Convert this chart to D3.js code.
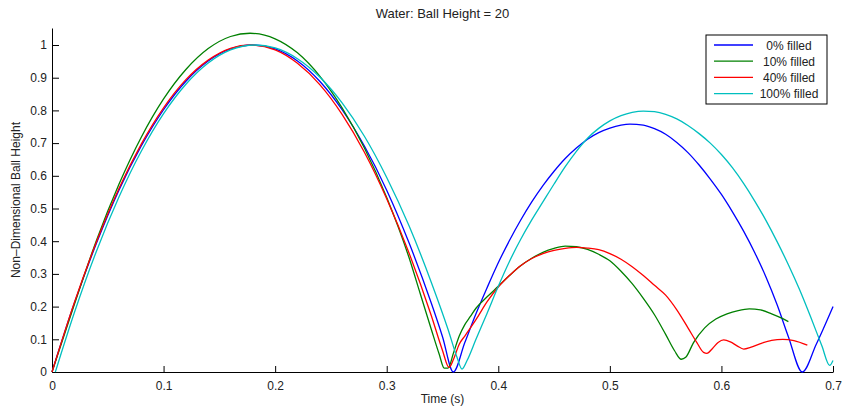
<!DOCTYPE html>
<html>
<head>
<meta charset="utf-8">
<script src="https://cdn.jsdelivr.net/npm/d3@7"></script>
<style>
  body { margin: 0; background: #fff; }
  svg { display: block; font-family: "Liberation Sans", Arial, sans-serif; }
  .axis path, .axis line { stroke: #000; }
  .axis text { fill: #222; font-size: 12px; }
  .series { fill: none; stroke-width: 1.3; stroke-linejoin: round; }
</style>
</head>
<body>
<div id="container"></div>
<script>
// values: [time (s), non-dimensional height]
const filled0 = [
  [0, 0], [0.02, 0.21], [0.04, 0.395], [0.06, 0.556], [0.08, 0.691], [0.10, 0.802],
  [0.12, 0.889], [0.14, 0.951], [0.16, 0.988], [0.18, 1.0], [0.20, 0.988], [0.22, 0.951],
  [0.24, 0.889], [0.26, 0.802], [0.28, 0.691], [0.30, 0.556], [0.32, 0.395], [0.34, 0.21],
  [0.35, 0.108], [0.3597, 0.0],
  [0.37, 0.09], [0.38, 0.178], [0.39, 0.258], [0.40, 0.334], [0.41, 0.402], [0.42, 0.464],
  [0.43, 0.52], [0.44, 0.57], [0.45, 0.614], [0.46, 0.653], [0.47, 0.685], [0.48, 0.712],
  [0.49, 0.732], [0.50, 0.746], [0.51, 0.755], [0.518, 0.758], [0.53, 0.755], [0.54, 0.744],
  [0.55, 0.727], [0.56, 0.702], [0.57, 0.671], [0.58, 0.633], [0.59, 0.59], [0.60, 0.543],
  [0.61, 0.489], [0.62, 0.43], [0.63, 0.364], [0.64, 0.29], [0.65, 0.205], [0.66, 0.108],
  [0.6725, 0.0], [0.685, 0.085], [0.70, 0.2]
];
const filled10 = [
  [0, 0], [0.02, 0.206], [0.04, 0.404], [0.06, 0.574], [0.08, 0.718], [0.10, 0.835],
  [0.12, 0.925], [0.14, 0.989], [0.16, 1.026], [0.1775, 1.036], [0.20, 1.019], [0.22, 0.976],
  [0.24, 0.905], [0.26, 0.808], [0.28, 0.685], [0.30, 0.534], [0.32, 0.35], [0.33, 0.24],
  [0.34, 0.13], [0.347, 0.055], [0.3515, 0.012], [0.355, 0.012],
  [0.360, 0.06], [0.365, 0.11], [0.37, 0.145], [0.375, 0.17], [0.38, 0.195], [0.39, 0.23],
  [0.40, 0.262], [0.41, 0.295], [0.42, 0.325], [0.43, 0.348], [0.44, 0.366], [0.45, 0.378],
  [0.46, 0.385], [0.47, 0.383], [0.48, 0.375], [0.49, 0.36], [0.50, 0.34], [0.51, 0.308],
  [0.52, 0.27], [0.53, 0.225], [0.54, 0.175], [0.55, 0.115], [0.558, 0.065], [0.564, 0.039],
  [0.568, 0.045], [0.575, 0.09], [0.585, 0.135], [0.595, 0.162], [0.605, 0.178], [0.615, 0.188],
  [0.625, 0.193], [0.635, 0.19], [0.645, 0.178], [0.655, 0.163], [0.66, 0.154]
];
const filled40 = [
  [0, 0], [0.02, 0.212], [0.04, 0.399], [0.06, 0.561], [0.08, 0.697], [0.10, 0.808],
  [0.12, 0.894], [0.14, 0.954], [0.16, 0.99], [0.178, 1.0], [0.20, 0.985], [0.22, 0.944],
  [0.24, 0.879], [0.26, 0.788], [0.28, 0.672], [0.30, 0.53], [0.32, 0.364], [0.34, 0.172],
  [0.35, 0.066], [0.3558, 0.014],
  [0.36, 0.04], [0.365, 0.085], [0.37, 0.11], [0.38, 0.16], [0.39, 0.215], [0.40, 0.26],
  [0.41, 0.295], [0.42, 0.325], [0.43, 0.347], [0.44, 0.362], [0.45, 0.372], [0.46, 0.378],
  [0.47, 0.381], [0.48, 0.379], [0.49, 0.374], [0.50, 0.362], [0.51, 0.345], [0.52, 0.322],
  [0.53, 0.295], [0.54, 0.265], [0.55, 0.235], [0.56, 0.19], [0.57, 0.135], [0.578, 0.09],
  [0.584, 0.06], [0.587, 0.057], [0.592, 0.072], [0.597, 0.09], [0.602, 0.098], [0.608, 0.092],
  [0.614, 0.08], [0.62, 0.07], [0.626, 0.075], [0.635, 0.087], [0.645, 0.097], [0.655, 0.1],
  [0.665, 0.096], [0.677, 0.082]
];
const filled100 = [
  [0.003, 0], [0.02, 0.181], [0.04, 0.371], [0.06, 0.535], [0.08, 0.675], [0.10, 0.79],
  [0.12, 0.88], [0.14, 0.945], [0.16, 0.985], [0.182, 1.0], [0.20, 0.991], [0.22, 0.958],
  [0.24, 0.902], [0.26, 0.823], [0.28, 0.721], [0.30, 0.595], [0.32, 0.447], [0.34, 0.274],
  [0.355, 0.13], [0.363, 0.045], [0.3675, 0.009],
  [0.372, 0.035], [0.38, 0.1], [0.39, 0.18], [0.40, 0.262], [0.41, 0.338], [0.42, 0.405],
  [0.43, 0.465], [0.44, 0.52], [0.45, 0.575], [0.46, 0.628], [0.47, 0.675], [0.48, 0.715],
  [0.49, 0.745], [0.50, 0.768], [0.51, 0.784], [0.52, 0.794], [0.53, 0.798], [0.54, 0.796],
  [0.55, 0.788], [0.56, 0.774], [0.57, 0.754], [0.58, 0.729], [0.59, 0.7], [0.60, 0.665],
  [0.61, 0.624], [0.62, 0.576], [0.63, 0.522], [0.64, 0.463], [0.65, 0.398], [0.66, 0.328],
  [0.67, 0.252], [0.68, 0.168], [0.69, 0.08], [0.697, 0.02], [0.70, 0.035]
];

const seriesNames = ["0% filled", "10% filled", "40% filled", "100% filled"];
const seriesColors = ["#0000ff", "#008000", "#ff0000", "#00bfbf"];
const xTicks = [0, 0.1, 0.2, 0.3, 0.4, 0.5, 0.6, 0.7];
const yTicks = [0, 0.1, 0.2, 0.3, 0.4, 0.5, 0.6, 0.7, 0.8, 0.9, 1];

const width = 844, height = 407;
const margin = {top: 28, right: 11, bottom: 35, left: 52};

const svg = d3.select("#container").append("svg")
  .attr("width", width)
  .attr("height", height);

const x = d3.scaleLinear().domain([0, 0.7]).range([margin.left, width - margin.right]);
const y = d3.scaleLinear().domain([0, 1.052]).range([height - margin.bottom, margin.top]);

// axes, ticks pointing inward like matlab
svg.append("g")
  .attr("class", "axis")
  .attr("transform", `translate(0,${height - margin.bottom})`)
  .call(d3.axisBottom(x).tickValues(xTicks).tickFormat(d3.format("")).tickSizeInner(-6).tickSizeOuter(0).tickPadding(9));

svg.append("g")
  .attr("class", "axis")
  .attr("transform", `translate(${margin.left},0)`)
  .call(d3.axisLeft(y).tickValues(yTicks).tickFormat(d3.format("")).tickSizeInner(-7).tickSizeOuter(0).tickPadding(5));

const line = d3.line()
  .x(d => x(d[0]))
  .y(d => y(d[1]))
  .curve(d3.curveMonotoneX);

const allSeries = [filled0, filled10, filled40, filled100];

svg.selectAll(".series")
  .data(allSeries)
  .join("path")
  .attr("class", "series")
  .attr("stroke", (d, i) => seriesColors[i])
  .attr("d", line);

// title + labels
svg.append("text")
  .attr("x", (margin.left + width - margin.right) / 2)
  .attr("y", 18)
  .attr("text-anchor", "middle")
  .attr("font-size", 13)
  .attr("fill", "#222")
  .text("Water: Ball Height = 20");

svg.append("text")
  .attr("x", (margin.left + width - margin.right) / 2)
  .attr("y", 403)
  .attr("text-anchor", "middle")
  .attr("font-size", 12)
  .attr("fill", "#222")
  .text("Time (s)");

svg.append("text")
  .attr("transform", `translate(20,${(margin.top + height - margin.bottom) / 2}) rotate(-90)`)
  .attr("text-anchor", "middle")
  .attr("font-size", 12)
  .attr("fill", "#222")
  .text("Non\u2013Dimensional Ball Height");

// legend
const legend = svg.append("g").attr("transform", "translate(706,35)");
legend.append("rect")
  .attr("width", 121)
  .attr("height", 69)
  .attr("fill", "#fff")
  .attr("stroke", "#000");

const item = legend.selectAll(".item")
  .data(seriesNames)
  .join("g")
  .attr("class", "item")
  .attr("transform", (d, i) => `translate(0,${10 + i * 16.2})`);

item.append("line")
  .attr("x1", 8).attr("x2", 47)
  .attr("stroke", (d, i) => seriesColors[i])
  .attr("stroke-width", 1.3);

item.append("text")
  .attr("x", 83)
  .attr("y", 4.5)
  .attr("text-anchor", "middle")
  .attr("font-size", 12)
  .attr("fill", "#222")
  .text(d => d);
</script>
</body>
</html>
